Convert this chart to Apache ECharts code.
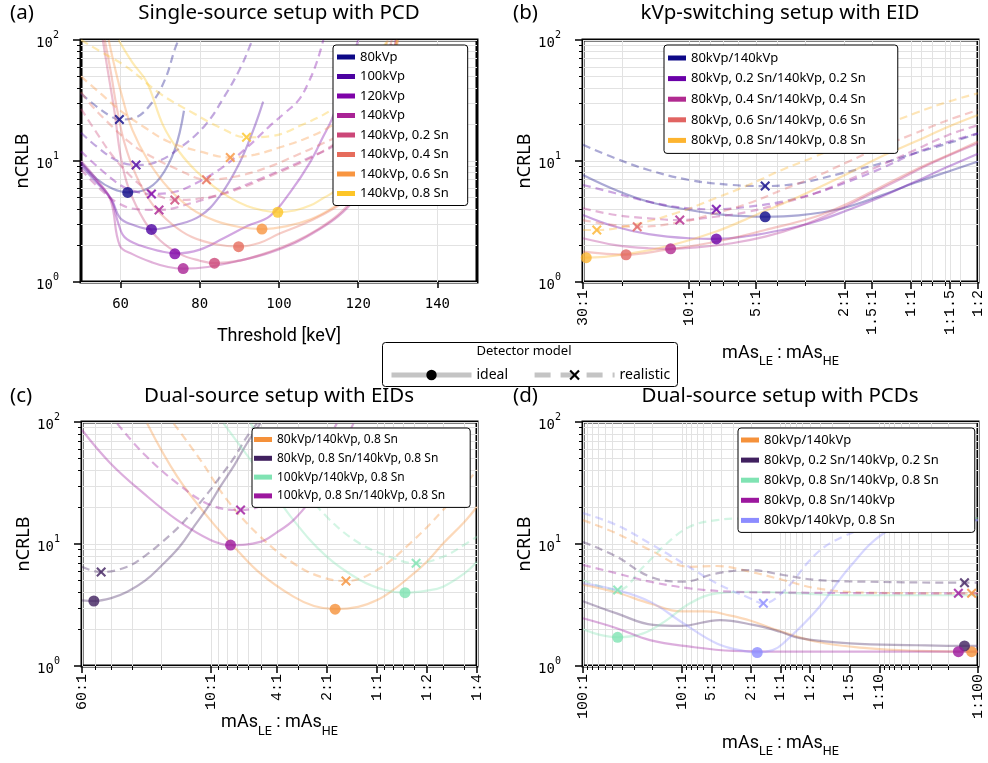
<!DOCTYPE html>
<html><head><meta charset="utf-8">
<script src="https://cdn.jsdelivr.net/npm/echarts@6/dist/echarts.min.js"></script>
<style>html,body{margin:0;padding:0;background:#fff}#c{width:988px;height:763px}</style>
</head><body><div id="c"></div>
<script>
const LOG = Math.log10;
const GRIDC = '#e2e2e2';
const SANS = '"Noto Sans","Open Sans",sans-serif';
const MONO = '"DejaVu Sans Mono",monospace';
const MONO2 = '"Liberation Mono","DejaVu Sans Mono",monospace';
const NARROW = '"Liberation Sans Narrow","Roboto","Noto Sans",sans-serif';
const CROSS = 'path://M1.5,0L5,3.5L8.5,0L10,1.5L6.5,5L10,8.5L8.5,10L5,6.5L1.5,10L0,8.5L3.5,5L0,1.5Z';

// ---------- ticks ----------
const yMajorTicks = [1, 10, 100];
const yMinorTicks = [2,3,4,5,6,7,8,9,20,30,40,50,60,70,80,90];
const aTickValues = [60, 80, 100, 120, 140];
const bTickRatios = [30, 10, 5, 2, 1.5, 1, 1/1.5, 0.5];
const bTickLabels = ['30:1','10:1','5:1','2:1','1.5:1','1:1','1:1.5','1:2'];
const bMinorRatios = [20,9,8,7,6,4,3,0.9,0.8,0.7,0.6];
const cTickRatios = [60, 10, 4, 2, 1, 0.5, 0.25];
const cTickLabels = ['60:1','10:1','4:1','2:1','1:1','1:2','1:4'];
const cMinorRatios = [50,40,30,20,9,8,7,6,5,3,0.9,0.8,0.7,0.6,0.4,0.3];
const dTickRatios = [100, 10, 5, 2, 1, 0.5, 0.2, 0.1, 0.01];
const dTickLabels = ['100:1','10:1','5:1','2:1','1:1','1:2','1:5','1:10','1:100'];
const dMinorRatios = [90,80,70,60,50,40,30,20,9,8,7,6,4,3,0.9,0.8,0.7,0.6,0.4,0.3,0.09,0.08,0.07,0.06,0.05,0.04,0.03,0.02];

// ---------- panel (a): threshold [keV] vs nCRLB ----------
const aNames = ['80kVp','100kVp','120kVp','140kVp','140kVp, 0.2 Sn','140kVp, 0.4 Sn','140kVp, 0.6 Sn','140kVp, 0.8 Sn'];
const aColors = ['#0d0887','#4c02a1','#7e03a8','#a92395','#cc4778','#e66c5c','#f89540','#fdc527'];
const a80i  = [[50,9.8],[54,7.1],[58,5.9],[62,5.5],[66,5.75],[70,7.3],[73.7,12.5],[76,26]];
const a100i = [[50,9.1],[54,6.6],[57.7,4.8],[59.8,3.4],[62.7,3.0],[68,2.72],[74,2.96],[80,3.5],[85,5.1],[90,9.6],[93.5,18],[96,31]];
const a120i = [[50,9.6],[54,6.8],[57.5,4.9],[59.5,3.0],[61,2.35],[65,2.0],[70,1.8],[74,1.72],[80,1.85],[86,2.3],[92,2.9],[97.7,3.5],[102.8,5.5],[107.8,9.7],[111.2,16],[113.3,22],[116,38],[118.5,70],[120,100]];
const a140i = [[50,10],[54,7],[57.5,4.7],[59.8,2.0],[63,1.7],[68,1.45],[72,1.33],[75.8,1.29],[82,1.33],[90,1.5],[97.7,1.75],[104,2.1],[110,2.7],[115,3.5],[119,4.8],[122.5,8],[125.5,16],[128,40],[129.5,100]];
const a02i  = [[55.5,100],[57,50],[58.5,25],[60,11],[62,6],[66,3.2],[70,2.2],[75,1.7],[80,1.5],[83.7,1.43],[90,1.5],[97.7,1.78],[104,2.15],[110,2.75],[115,3.6],[119,5],[122.5,8.5],[125.5,17],[128,45],[129.5,100]];
const a04i  = [[56,100],[57.5,55],[59,28],[61,14],[64,7.5],[68,4.4],[73,3.0],[78,2.35],[84,2.05],[89.8,1.96],[95,2.1],[100,2.5],[106,3.0],[111,3.6],[116,4.5],[120,6],[123,10],[126,22],[128.5,60],[130,100]];
const a06i  = [[57,100],[58.5,60],[60.5,33],[63,18],[67,10],[72,6],[78,4.0],[84,3.2],[90,2.85],[95.7,2.74],[102,2.9],[108,3.3],[113,4.0],[117,5.0],[120.5,7],[123.5,12],[126.5,25],[129,65],[130,100]];
const a08i  = [[59.5,100],[63,65],[66.6,45],[70.8,19.5],[75,11.7],[79,8.3],[83.4,6.2],[87.5,5.0],[91.9,4.25],[96,3.9],[99.7,3.77],[104,3.9],[108,4.3],[111,4.9],[114,5.6],[117,7],[120.5,10],[123.5,17],[126.5,35],[129,80],[129.8,100]];
const a80r  = [[50,36],[54.3,27.6],[57,24],[59.7,22],[63.6,22.8],[67.8,30],[71.2,47],[73.7,84],[74.6,100]];
const a100r = [[50,17.1],[54.3,12.9],[59.3,10],[63.9,9.27],[68.6,9.7],[74.5,12.5],[81.2,19.5],[86.3,34.5],[90.5,61],[93,95],[93.3,100]];
const a120r = [[50,12],[55,8.5],[60,6.3],[63,5.7],[67.8,5.34],[74,5.6],[80,6.8],[86,9],[92,13],[97.7,19.5],[101.5,25],[105,32],[107.5,45],[109.5,65],[111.2,100]];
const a140r = [[50,8.5],[55,5.8],[59.3,4.5],[64,4.0],[69.7,3.94],[78,4.5],[86.6,5.5],[95,7.06],[102,8.8],[108,10.8],[114,13.5],[119,19],[123,30],[126,52],[128.5,100]];
const a02r  = [[50,27],[54,17],[58,11],[62,7.8],[66,6.0],[70,5.1],[73.7,4.76],[80,4.9],[88,5.6],[97.7,7.5],[105,9.5],[111,12],[116,15.5],[120,21],[124,35],[127,65],[128.8,100]];
const a04r  = [[50,37],[53,28],[57.7,19.5],[62,14.5],[66,11.7],[74.5,8.5],[81.7,7.01],[89.6,7.5],[97.7,9.0],[104,11],[110,13.5],[116,17],[120,23],[124,38],[127,70],[128.5,100]];
const a06r  = [[50,50],[55,36],[60,26],[66,19],[72,14.5],[80,12],[87.7,10.7],[94,11.3],[99.7,12.8],[106,15],[112,18.5],[117,24],[121,34],[124.5,55],[127.5,100]];
const a08r  = [[50,100],[55,80],[61.5,60],[70,36],[78.4,24.8],[85,19],[91.8,15.7],[97.7,16],[106,20],[113.7,27],[118,36],[122,52],[125,75],[127.5,100]];
const aOptIdeal = [[61.8,5.5],[67.8,2.72],[73.7,1.71],[75.8,1.29],[83.7,1.43],[89.8,1.96],[95.7,2.74],[99.7,3.77]];
const aOptReal  = [[59.7,22],[63.9,9.27],[67.8,5.34],[69.7,3.94],[73.7,4.76],[81.7,7.01],[87.7,10.7],[91.8,15.7]];

// ---------- panel (b): ratio mAs_LE/mAs_HE vs nCRLB ----------
const bNames = ['80kVp/140kVp','80kVp, 0.2 Sn/140kVp, 0.2 Sn','80kVp, 0.4 Sn/140kVp, 0.4 Sn','80kVp, 0.6 Sn/140kVp, 0.6 Sn','80kVp, 0.8 Sn/140kVp, 0.8 Sn'];
const bColors = ['#0d0887','#6a00a8','#b12a90','#e16462','#fdb42f'];
const b0i = [[30,7.66],[21.4,5.76],[15.2,4.61],[10,3.94],[7.1,3.6],[4.54,3.46],[3.21,3.55],[2.06,4.05],[1.36,5.2],[0.962,6.6],[0.68,8.2],[0.5,9.9]];
const b2i = [[30,3.58],[21.4,2.86],[15.2,2.49],[10,2.3],[7.53,2.27],[5.4,2.4],[3.82,2.69],[2.7,3.15],[1.92,3.94],[1.36,5.07],[0.962,6.74],[0.68,9.0],[0.5,11.5]];
const b4i = [[30,2.3],[21.4,2.02],[15.2,1.9],[12.1,1.88],[9,1.94],[6.4,2.09],[4.54,2.37],[3.21,2.86],[2.28,3.7],[1.61,5.07],[1.14,6.97],[0.81,9.57],[0.5,14]];
const b6i = [[30,1.78],[19.2,1.68],[12.8,1.84],[7.6,2.15],[4.54,2.69],[2.7,3.46],[1.92,4.47],[1.36,6.13],[0.962,8.43],[0.68,11.2],[0.5,14.5]];
const b8i = [[30,1.6],[29,1.59],[18,1.73],[11.9,2.02],[7.6,2.6],[5.0,3.58],[3.21,5.07],[2.06,7.42],[1.36,10.9],[0.962,14.4],[0.68,19.2],[0.5,24]];
const b0r = [[30,13.6],[21.4,10.5],[15.2,8.43],[10,6.97],[6.4,6.34],[4.54,6.21],[3.21,6.54],[2.06,7.91],[1.36,9.57],[0.962,11.6],[0.68,14],[0.5,16.9]];
const b2r = [[30,6.34],[21.4,5.41],[15.2,4.61],[10,4.06],[7.53,3.99],[5.4,4.19],[3.82,4.61],[2.7,5.41],[1.92,6.74],[1.36,8.7],[0.962,11.6],[0.68,14.4],[0.5,16.9]];
const b4r = [[30,4.06],[21.4,3.58],[15.2,3.36],[11,3.25],[7.6,3.46],[5.4,3.81],[3.82,4.47],[2.7,5.41],[1.92,6.97],[1.36,9.27],[0.962,12.3],[0.68,16.4],[0.5,19.8]];
const b6r = [[30,3.25],[17.1,2.86],[10.7,3.15],[7.6,3.7],[5.4,4.47],[3.82,5.76],[2.7,7.42],[1.92,9.87],[1.36,13.1],[0.962,16.9],[0.68,21.8],[0.5,26.4]];
const b8r = [[30,2.69],[26,2.69],[18,2.96],[11.5,3.7],[7.6,4.92],[5.4,6.34],[3.82,8.43],[2.7,10.9],[1.92,14.4],[1.36,19.2],[0.962,24.8],[0.68,30.9],[0.5,36.3]];
const bOptIdeal = [[4.54,3.46],[7.53,2.27],[12.1,1.88],[19.2,1.68],[29,1.59]];
const bOptReal  = [[4.54,6.21],[7.53,3.99],[11,3.25],[17.1,2.86],[26,2.69]];

// ---------- panel (c) ----------
const cNames = ['80kVp/140kVp, 0.8 Sn','80kVp, 0.8 Sn/140kVp, 0.8 Sn','100kVp/140kVp, 0.8 Sn','100kVp, 0.8 Sn/140kVp, 0.8 Sn'];
const cColors = ['#f5913a','#40205f','#80e3b3','#9c179e'];
const c1i = [[24.3,97],[16,35.6],[10.1,15.7],[6.98,8.93],[5.06,5.75],[3.19,3.7],[2.4,3.1],[1.79,2.92],[1.3,3.05],[1.0,3.47],[0.8,4.2],[0.634,5.4],[0.5,7.2],[0.4,10.1],[0.3,15],[0.25,20.2]];
const c2i = [[60,3.45],[50.9,3.41],[40,3.6],[32,4.06],[25,5.0],[20.2,6.52],[15.5,9.5],[12.7,13.9],[10.5,20],[8.81,29.5],[7.2,45],[6.08,67],[5.06,97]];
const c3i = [[8.4,97],[5.06,38],[3.19,15.7],[2.01,7.87],[1.27,5.07],[0.9,4.2],[0.679,3.99],[0.5,4.15],[0.4,4.47],[0.3,5.7],[0.25,7.16]];
const c4i = [[60,86],[40.5,46],[25.5,26],[16,15.7],[10.1,10.8],[7.64,9.8],[5.06,10.4],[4,12.5],[3.19,15.7],[2.5,23],[2.01,35.6],[1.39,97]];
const c1r = [[16.8,97],[11.6,48.8],[8.0,22.9],[5.06,11.5],[3.19,6.95],[2.2,5.4],[1.54,4.97],[1.0,6.12],[0.634,10.1],[0.4,19],[0.25,40.4]];
const c2r = [[60,6.5],[46,5.89],[32,6.52],[25,8],[20.2,10.1],[15.5,14],[12.7,19],[10.5,26],[8.81,35.6],[7.2,52],[6.08,76],[5.3,97]];
const c3r = [[5.8,97],[3.19,35.6],[2.01,16.7],[1.27,10.1],[0.794,7.64],[0.582,6.95],[0.4,7.87],[0.3,9.8],[0.25,11.5]];
const c4r = [[36.8,97],[25.5,55],[16,31.4],[10.1,20.9],[6.65,19],[4.61,21.6],[3.19,31.4],[2.2,59],[1.75,97]];
const cOptIdeal = [[1.79,2.92],[50.9,3.41],[0.679,3.99],[7.64,9.8]];
const cOptReal  = [[1.54,4.97],[46,5.89],[0.582,6.95],[6.65,19]];

// ---------- panel (d) ----------
const dNames = ['80kVp/140kVp','80kVp, 0.2 Sn/140kVp, 0.2 Sn','80kVp, 0.8 Sn/140kVp, 0.8 Sn','80kVp, 0.8 Sn/140kVp','80kVp/140kVp, 0.8 Sn'];
const dColors = ['#f5913a','#40205f','#80e3b3','#9c179e','#8c8cff'];
const d1i = [[100,4.65],[45.6,4.0],[21,3.25],[10,2.8],[5.6,2.8],[3.3,2.6],[2,2.35],[1.09,1.97],[0.43,1.58],[0.134,1.4],[0.042,1.33],[0.0116,1.31],[0.01,1.31]];
const d2i = [[100,3.4],[45.6,2.7],[19.4,2.17],[10.4,2.13],[4.1,2.38],[1.88,2.17],[1.01,1.91],[0.634,1.69],[0.198,1.53],[0.042,1.48],[0.0137,1.46],[0.01,1.46]];
const d3i = [[100,2.0],[67.3,1.8],[44.6,1.72],[24.5,1.85],[14.2,2.38],[8.24,3.27],[4.42,3.94],[2.04,4.06],[0.94,4.0],[0.29,3.82],[0.1,3.8],[0.01,3.8]];
const d4i = [[100,2.46],[45.6,2.04],[21,1.63],[8.24,1.44],[3.0,1.33],[0.94,1.31],[0.1,1.31],[0.0158,1.31],[0.01,1.31]];
const d5i = [[100,4.76],[45.6,4.2],[21,3.37],[9.64,2.24],[4.42,1.53],[2.6,1.35],[1.72,1.29],[1.2,1.35],[0.94,1.53],[0.43,2.88],[0.198,6.5],[0.091,12.2],[0.042,15.2],[0.01,15.7]];
const d1r = [[100,15.7],[45.6,12.2],[21,8.93],[8.24,6.5],[4.42,6.6],[2.04,5.93],[0.94,5.07],[0.43,4.33],[0.134,3.99],[0.0116,3.94],[0.01,3.94]];
const d2r = [[100,10.4],[45.6,7.87],[21,5.4],[9.64,4.91],[4.42,5.75],[2.04,6.12],[0.94,5.57],[0.43,5.07],[0.134,4.91],[0.0137,4.82],[0.01,4.82]];
const d3r = [[100,5.07],[44.6,4.2],[24.5,6.5],[14.2,10.1],[8.24,13.9],[4.42,15.7],[2.38,16.2],[1,16.3],[0.1,16.3],[0.01,16.3]];
const d4r = [[100,6.73],[45.6,5.75],[21,4.91],[8.24,4.33],[3.0,4.06],[0.94,4.0],[0.1,3.95],[0.0158,3.94],[0.01,3.94]];
const d5r = [[100,17.9],[45.6,14.3],[21,10.1],[9.64,6.95],[4.42,4.76],[2.04,3.59],[1.49,3.27],[0.94,4.06],[0.43,8.4],[0.231,11.5],[0.1,14.5],[0.03,15.5],[0.01,15.7]];
const dOptIdeal = [[0.0116,1.31],[0.0137,1.46],[44.6,1.72],[0.0158,1.31],[1.72,1.29]];
const dOptReal  = [[0.0116,3.94],[0.0137,4.82],[44.6,4.2],[0.0158,3.94],[1.49,3.27]];

// ---------- build ----------
const idX = v => v;
const ratioX = r => 0 - LOG(r) + 0;
const panels = [
  {tag:'#a', names:aNames, colors:aColors, ideal:[a80i,a100i,a120i,a140i,a02i,a04i,a06i,a08i], real:[a80r,a100r,a120r,a140r,a02r,a04r,a06r,a08r], oi:aOptIdeal, or:aOptReal, xf:idX},
  {tag:'#b', names:bNames, colors:bColors, ideal:[b0i,b2i,b4i,b6i,b8i], real:[b0r,b2r,b4r,b6r,b8r], oi:bOptIdeal, or:bOptReal, xf:ratioX},
  {tag:'#c', names:cNames, colors:cColors, ideal:[c1i,c2i,c3i,c4i], real:[c1r,c2r,c3r,c4r], oi:cOptIdeal, or:cOptReal, xf:ratioX},
  {tag:'#d', names:dNames, colors:dColors, ideal:[d1i,d2i,d3i,d4i,d5i], real:[d1r,d2r,d3r,d4r,d5r], oi:dOptIdeal, or:dOptReal, xf:ratioX}
];
const gridPos = [
  {left:81, top:40, width:396, height:242},
  {left:583, top:40, width:395, height:242},
  {left:82, top:422, width:395, height:244},
  {left:583, top:422, width:395, height:244}
];
const series = [];
panels.forEach((p, gi) => {
  const conv = arr => arr.map(([x, v]) => [p.xf(x), LOG(v)]);
  p.names.forEach((n, i) => {
    const base = {type:'line', xAxisIndex:2*gi, yAxisIndex:2*gi, showSymbol:false, symbol:'none',
      smooth:0.4, silent:true, z:2, itemStyle:{color:p.colors[i]}};
    series.push(Object.assign({}, base, {name:n + p.tag, data:conv(p.ideal[i]),
      lineStyle:{color:p.colors[i], width:2.2, opacity:0.35}}));
    series.push(Object.assign({}, base, {name:n + p.tag + ' realistic', data:conv(p.real[i]),
      lineStyle:{color:p.colors[i], width:2.2, opacity:0.35, type:[8,5]}}));
  });
  series.push({type:'scatter', name:'opt ideal' + p.tag, xAxisIndex:2*gi, yAxisIndex:2*gi, clip:false, z:5, silent:true,
    symbol:'circle', symbolSize:11,
    data:p.oi.map(([x, v], i) => ({value:[p.xf(x), LOG(v)], itemStyle:{color:p.colors[i]}}))});
  series.push({type:'scatter', name:'opt realistic' + p.tag, xAxisIndex:2*gi, yAxisIndex:2*gi, clip:false, z:5, silent:true,
    symbol:CROSS, symbolSize:10,
    data:p.or.map(([x, v], i) => ({value:[p.xf(x), LOG(v)], itemStyle:{color:p.colors[i]}}))});
});
// detector-model key entries
series.push({type:'line', name:'ideal', xAxisIndex:0, yAxisIndex:0, data:[], symbol:'circle', symbolSize:10,
  itemStyle:{color:'#000'}, lineStyle:{color:'#c4c4c4', width:5}});
series.push({type:'line', name:'realistic', xAxisIndex:0, yAxisIndex:0, data:[], symbol:CROSS, symbolSize:10,
  itemStyle:{color:'#000'}, lineStyle:{color:'#c4c4c4', width:5, type:[16,10]}});

const yRich = {b:{fontFamily:MONO, fontSize:14, color:'#000', lineHeight:20, verticalAlign:'bottom'},
               s:{fontFamily:MONO, fontSize:10, color:'#000', lineHeight:10, verticalAlign:'top'}};
const nameRich = {b:{fontFamily:NARROW, fontSize:18, color:'#000', lineHeight:24, verticalAlign:'top'},
                  s:{fontFamily:NARROW, fontSize:12.5, color:'#000', lineHeight:12, verticalAlign:'bottom'}};
const tickLine = {color:'#000', width:1.5};
const noLine = {show:false, onZero:false};
const xAxes = [], yAxes = [];
gridPos.forEach((g, gi) => {
  yAxes.push({gridIndex:gi, type:'value', position:'left', min:0, max:2,
    axisLine:noLine,
    axisTick:{show:true, length:8, customValues:yMajorTicks.map(LOG), lineStyle:tickLine},
    axisLabel:{customValues:yMajorTicks.map(LOG), margin:22, formatter:v => '{b|10}{s|' + Math.round(v) + '}', rich:yRich},
    splitLine:{show:true, lineStyle:{color:GRIDC, width:1}},
    name:'nCRLB', nameLocation:'middle', nameGap:45, nameRotate:90,
    nameTextStyle:{fontFamily:SANS, fontSize:18, color:'#000'}});
  yAxes.push({gridIndex:gi, type:'value', position:'left', min:0, max:2,
    axisLine:noLine,
    axisTick:{show:true, length:4, customValues:yMinorTicks.map(LOG), lineStyle:{color:'#000', width:1}},
    axisLabel:{show:false},
    splitLine:{show:true, lineStyle:{color:GRIDC, width:1}}});
});
// (a)
xAxes.push({gridIndex:0, type:'value', position:'bottom', min:50, max:150,
  axisLine:noLine,
  axisTick:{show:true, length:6, customValues:aTickValues, lineStyle:tickLine},
  axisLabel:{customValues:aTickValues, fontFamily:MONO, fontSize:14, color:'#000', margin:15},
  splitLine:{show:true, lineStyle:{color:GRIDC, width:1}},
  name:'Threshold [keV]', nameLocation:'middle', nameGap:45,
  nameTextStyle:{fontFamily:NARROW, fontSize:18, color:'#000'}});
xAxes.push({gridIndex:0, type:'value', position:'bottom', min:50, max:150, show:false, axisLine:noLine});
const ratioAxes = [
  {gi:1, ratios:bTickRatios, labels:bTickLabels, minor:bMinorRatios, gap:62},
  {gi:2, ratios:cTickRatios, labels:cTickLabels, minor:cMinorRatios, gap:41},
  {gi:3, ratios:dTickRatios, labels:dTickLabels, minor:dMinorRatios, gap:68}
];
ratioAxes.forEach(ax => {
  const pos = ax.ratios.map(ratioX);
  const lo = pos[0], hi = pos[pos.length - 1];
  xAxes.push({gridIndex:ax.gi, type:'value', position:'bottom', min:lo, max:hi,
    axisLine:noLine,
    axisTick:{show:true, length:7, customValues:pos, lineStyle:tickLine},
    axisLabel:{customValues:pos, rotate:90, margin:8, fontFamily:MONO2, fontSize:15, color:'#000',
      showMinLabel:true, showMaxLabel:true, hideOverlap:false,
      formatter:v => { let k = 0, best = 1e9; pos.forEach((q, i) => { const d = Math.abs(q - v); if (d < best) { best = d; k = i; } }); return ax.labels[k]; }},
    splitLine:{show:true, lineStyle:{color:GRIDC, width:1}},
    name:'{b|mAs}{s|LE}{b| : mAs}{s|HE}', nameLocation:'middle', nameGap:ax.gap,
    nameTextStyle:{rich:nameRich}});
  xAxes.push({gridIndex:ax.gi, type:'value', position:'bottom', min:lo, max:hi,
    axisLine:noLine,
    axisTick:{show:true, length:4, customValues:ax.minor.map(ratioX), lineStyle:{color:'#000', width:1}},
    axisLabel:{show:false},
    splitLine:{show:true, lineStyle:{color:GRIDC, width:1}}});
});

const legendCommon = {orient:'vertical', icon:'rect', itemWidth:18, itemHeight:5, selectedMode:false,
  backgroundColor:'#fff', borderColor:'#000', borderWidth:1, borderRadius:3,
  formatter:n => n.replace(/#[a-d]$/, '')};
const legends = [
  Object.assign({}, legendCommon, {left:333, top:45, padding:[5,19,5,4], itemGap:5.5,
    data:aNames.map(n => ({name:n + '#a', itemStyle:{opacity:1}})),
    textStyle:{fontFamily:SANS, fontSize:13, color:'#000', lineHeight:14}}),
  Object.assign({}, legendCommon, {left:664, top:45, padding:[6,32,6,4], itemGap:6.6,
    data:bNames.map(n => ({name:n + '#b', itemStyle:{opacity:1}})),
    textStyle:{fontFamily:SANS, fontSize:13, color:'#000', lineHeight:14}}),
  Object.assign({}, legendCommon, {left:252, top:428, padding:[5,25,5,2], itemGap:5.8,
    data:cNames.map(n => ({name:n + '#c', itemStyle:{opacity:1}})),
    textStyle:{fontFamily:SANS, fontSize:12, color:'#000', lineHeight:13}}),
  Object.assign({}, legendCommon, {left:738, top:428, padding:[5,36,5,3], itemGap:6.1,
    data:dNames.map(n => ({name:n + '#d', itemStyle:{opacity:1}})),
    textStyle:{fontFamily:SANS, fontSize:13, color:'#000', lineHeight:14}}),
  {left:384, top:363, orient:'horizontal', itemWidth:80, itemHeight:13, itemGap:24, selectedMode:false,
    lineStyle:{width:5, color:'#c4c4c4'},
    data:['ideal','realistic'], textStyle:{fontFamily:SANS, fontSize:14, color:'#000'}}
];

const titleStyle = {fontFamily:SANS, fontSize:20.5, fontWeight:'normal', color:'#000'};
const titles = [
  {text:'(a)', left:10, top:3, padding:0, textStyle:titleStyle},
  {text:'Single-source setup with PCD', left:279, top:3, padding:0, textAlign:'center', textStyle:titleStyle},
  {text:'(b)', left:513, top:3, padding:0, textStyle:titleStyle},
  {text:'kVp-switching setup with EID', left:780, top:3, padding:0, textAlign:'center', textStyle:titleStyle},
  {text:'(c)', left:10, top:386, padding:0, textStyle:titleStyle},
  {text:'Dual-source setup with EIDs', left:279, top:386, padding:0, textAlign:'center', textStyle:titleStyle},
  {text:'(d)', left:513, top:386, padding:0, textStyle:titleStyle},
  {text:'Dual-source setup with PCDs', left:780, top:386, padding:0, textAlign:'center', textStyle:titleStyle},
  {text:'Detector model', left:524, top:345, padding:0, textAlign:'center', textStyle:{fontFamily:SANS, fontSize:13, fontWeight:'normal', color:'#000'}}
];

const chart = echarts.init(document.getElementById('c'), null, {renderer:'canvas'});
chart.setOption({
  animation:false,
  backgroundColor:'#fff',
  title:titles,
  grid:gridPos.map(g => Object.assign({show:true, borderColor:'#000', borderWidth:3, backgroundColor:'transparent'}, g)),
  xAxis:xAxes,
  yAxis:yAxes,
  legend:legends,
  graphic:[{type:'rect', left:382, top:342, z:-1, shape:{width:295, height:44, r:3}, style:{fill:'#fff', stroke:'#000', lineWidth:1}}],
  series:series
});
</script></body></html>
